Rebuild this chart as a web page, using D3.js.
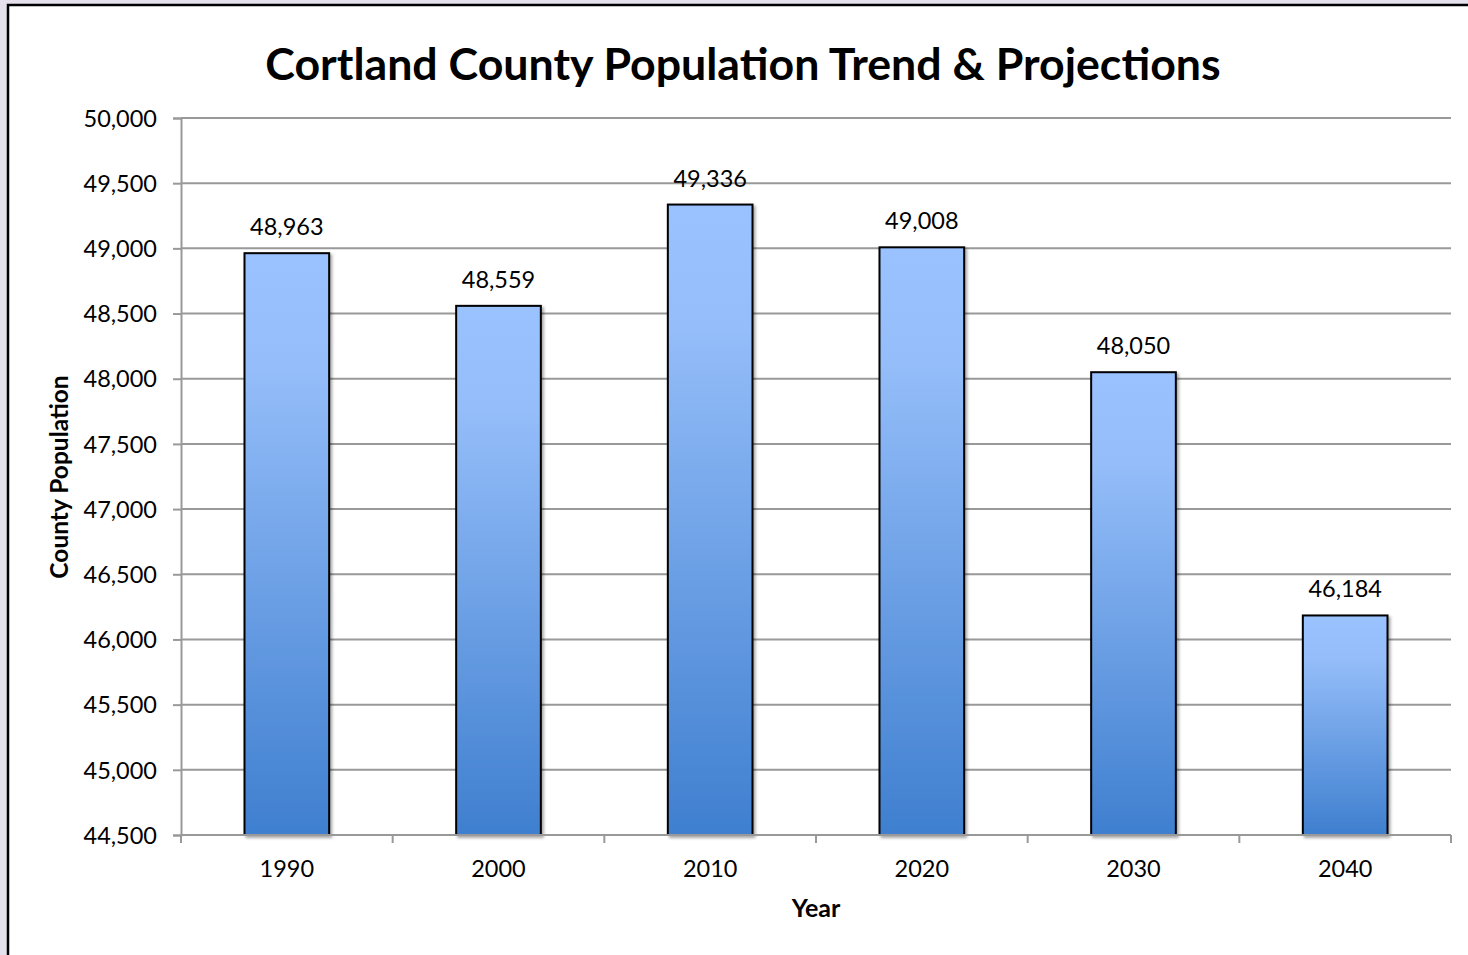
<!DOCTYPE html>
<html>
<head>
<meta charset="utf-8">
<script src="https://cdn.jsdelivr.net/npm/d3@7"></script>
<style>
  html, body { margin: 0; padding: 0; background: #e6e0ec; }
  svg { display: block; }
</style>
</head>
<body>
<svg id="chart" width="1468" height="955"></svg>
<script>
const years = ["1990", "2000", "2010", "2020", "2030", "2040"];
const population = [48963, 48559, 49336, 49008, 48050, 46184];
const yTicks = [44500, 45000, 45500, 46000, 46500, 47000, 47500, 48000, 48500, 49000, 49500, 50000];

const title = "Cortland County Population Trend & Projections";
const xTitle = "Year";
const yTitle = "County Population";

const W = 1468, H = 955;
const font = "Lato, 'Open Sans', sans-serif";
const svg = d3.select("#chart");

// panel
svg.append("rect").attr("x", 8).attr("y", 5).attr("width", W).attr("height", H)
  .attr("fill", "#fff").attr("stroke", "#000").attr("stroke-width", 2.5);

const m = { left: 181, right: 1451, top: 118, bottom: 835 };

const x = d3.scaleBand().domain(years).range([m.left, m.right]).paddingInner(0.6).paddingOuter(0.3);
const xb = d3.scaleBand().domain(years).range([m.left, m.right]).padding(0);
const y = d3.scaleLinear().domain([44500, 50000]).range([m.bottom, m.top]);

const defs = svg.append("defs");
const grad = defs.append("linearGradient").attr("id", "barGrad")
  .attr("x1", 0).attr("y1", 0).attr("x2", 0).attr("y2", 1);
grad.append("stop").attr("offset", "0%").attr("stop-color", "#9ac2ff");
grad.append("stop").attr("offset", "20%").attr("stop-color", "#94bdf9");
grad.append("stop").attr("offset", "100%").attr("stop-color", "#3f7fcf");
const filt = defs.append("filter").attr("id", "shadow").attr("x", "-10%").attr("y", "-10%").attr("width", "130%").attr("height", "130%");
filt.append("feDropShadow").attr("dx", 2).attr("dy", 2).attr("stdDeviation", 1.5)
  .attr("flood-color", "#000").attr("flood-opacity", 0.35);

// gridlines + y axis
const yAxis = d3.axisLeft(y).tickValues(yTicks).tickSize(8).tickFormat(d3.format(","));
const gy = svg.append("g").attr("transform", `translate(${m.left},0)`).call(yAxis);
gy.select(".domain").attr("stroke", "#999").attr("stroke-width", 2);
gy.selectAll(".tick line").attr("stroke", "#999").attr("stroke-width", 2);
gy.selectAll(".tick text").attr("font-family", font).attr("font-size", 23.5).attr("fill", "#000")
  .attr("x", -24).attr("dy", "0.35em");

svg.append("g").selectAll("line").data(yTicks.filter(d => d !== 44500)).join("line")
  .attr("x1", m.left).attr("x2", m.right)
  .attr("y1", d => y(d)).attr("y2", d => y(d))
  .attr("stroke", "#999").attr("stroke-width", 2);

// bars
svg.append("g").selectAll("rect").data(years).join("rect")
  .attr("x", d => x(d)).attr("width", x.bandwidth())
  .attr("y", (d, i) => y(population[i]))
  .attr("height", (d, i) => y(44500) - y(population[i]))
  .attr("fill", "url(#barGrad)").attr("stroke", "#000").attr("stroke-width", 2)
  .attr("filter", "url(#shadow)");

// x axis
const xAxis = d3.axisBottom(xb).tickSize(0).tickFormat(d => d);
const gx = svg.append("g").attr("transform", `translate(0,${m.bottom})`).call(xAxis);
gx.select(".domain").attr("stroke", "#999").attr("stroke-width", 2).attr("d", `M${m.left},0H${m.right}`);
gx.selectAll(".tick text").attr("font-family", font).attr("font-size", 23.5).attr("fill", "#000")
  .attr("y", 25).attr("dy", "0.71em");
const bounds = years.map(d => xb(d)).concat([m.right]);
svg.append("g").selectAll("line").data(bounds).join("line")
  .attr("x1", d => d).attr("x2", d => d)
  .attr("y1", m.bottom).attr("y2", m.bottom + 8)
  .attr("stroke", "#999").attr("stroke-width", 2);

// value labels
svg.append("g").selectAll("text").data(years).join("text")
  .attr("x", d => x(d) + x.bandwidth() / 2)
  .attr("y", (d, i) => y(population[i]) - 18)
  .attr("text-anchor", "middle")
  .attr("font-family", font).attr("font-size", 23.5).attr("fill", "#000")
  .text((d, i) => d3.format(",")(population[i]));

// titles
svg.append("text").attr("x", 743).attr("y", 80).attr("text-anchor", "middle")
  .attr("font-family", font).attr("font-weight", "bold").attr("font-size", 44.7).attr("fill", "#000")
  .text(title);
svg.append("text").attr("x", 816).attr("y", 917).attr("text-anchor", "middle")
  .attr("font-family", font).attr("font-weight", "bold").attr("font-size", 25).attr("fill", "#000")
  .text(xTitle);
svg.append("text").attr("transform", "translate(68,477) rotate(-90)").attr("text-anchor", "middle")
  .attr("font-family", font).attr("font-weight", "bold").attr("font-size", 24.5).attr("fill", "#000")
  .text(yTitle);
</script>
</body>
</html>
